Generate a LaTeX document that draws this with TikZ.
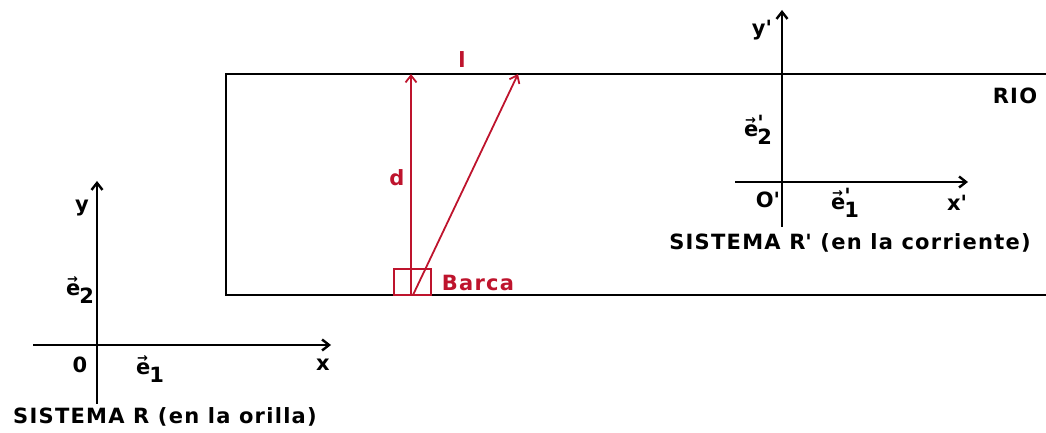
\documentclass[tikz,border=0pt]{standalone}
\usepackage{fontspec}
\setmainfont{DejaVu Sans}[LetterSpace=6]
\usetikzlibrary{arrows.meta}

\definecolor{barcared}{RGB}{190,20,45}
\newcommand{\vecarrow}{\rlap{\kern1pt\raisebox{1.05ex}{\fontsize{13}{13}\selectfont →}}}
\newcommand{\unitvec}[1]{\vecarrow e\kern-1pt\raisebox{-0.7ex}{#1}}
\newcommand{\unitvecp}[1]{\vecarrow e\kern-1pt\rlap{\raisebox{0.5ex}{\textquotesingle}}\raisebox{-0.7ex}{#1}}

\begin{document}
\begin{tikzpicture}[
  x=1pt, y=1pt,
  every node/.style={
    font=\fontsize{21}{23}\selectfont\bfseries,
    inner sep=0pt
  },
  axis/.style={-{Straight Barb[length=7pt,width=11pt]}, line width=2.4pt},
  bank/.style={line width=2.4pt},
  path/.style={-{Straight Barb[length=7pt,width=11pt]}, line width=1.8pt, barcared},
  redlabel/.style={text=barcared}
]
\useasboundingbox (0,0) rectangle (1046,433);

% System R (on the bank)
\coordinate (origR) at (97,88);
\coordinate (ytopR) at (97,252);
\coordinate (ybotR) at (97,29);
\coordinate (xleftR) at (33,88);
\coordinate (xrightR) at (331,88);
\draw[axis] (ybotR) -- (ytopR);
\draw[axis] (xleftR) -- (xrightR);
\node (ylabR) at (82,225) {y};
\node (e2R) at (80,143) {\unitvec{2}};
\node (zeroR) at (80,68) {0};
\node (e1R) at (150,64) {\unitvec{1}};
\node (xlabR) at (323,68) {x};
\node (sysR) at (165,16) {SISTEMA R (en la orilla)};

% River
\coordinate (riverTR) at (1046,359);
\coordinate (riverTL) at (226,359);
\coordinate (riverBL) at (226,138);
\coordinate (riverBR) at (1046,138);
\draw[bank] (riverTR) -- (riverTL) -- (riverBL) -- (riverBR);
\node (rio) at (1015,337) {RIO};

% Boat and its paths
\draw[barcared, line width=1.6pt] (394,138) rectangle (431,164);
\coordinate (boat) at (411,138);
\coordinate (boat2) at (413,138);
\coordinate (across) at (411,359);
\coordinate (drift) at (518,359);
\draw[path] (boat) -- (across);
\draw[path] (boat2) -- (drift);
\node[redlabel] (dlab) at (397,255) {d};
\node[redlabel] (llab) at (462,373) {l};
\node[redlabel] (barca) at (478,150) {Barca};

% System R' (in the current)
\coordinate (origRp) at (782,251);
\coordinate (ytopRp) at (782,423);
\coordinate (ybotRp) at (782,206);
\coordinate (xleftRp) at (735,251);
\coordinate (xrightRp) at (968,251);
\draw[axis] (ybotRp) -- (ytopRp);
\draw[axis] (xleftRp) -- (xrightRp);
\node (ylabRp) at (762,403) {y\textquotesingle};
\node (e2Rp) at (758,303) {\unitvecp{2}};
\node (zeroRp) at (768,233) {O\textquotesingle};
\node (e1Rp) at (845,230) {\unitvecp{1}};
\node (xlabRp) at (957,230) {x\textquotesingle};
\node (sysRp) at (850,190) {SISTEMA R\textquotesingle\ (en la corriente)};

\end{tikzpicture}
\end{document}
